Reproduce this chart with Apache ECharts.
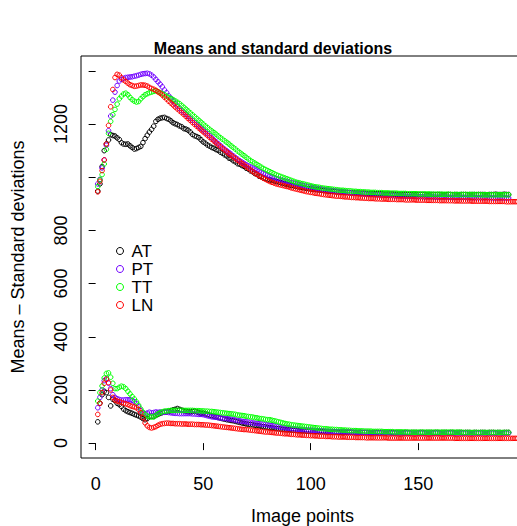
<!DOCTYPE html>
<html>
<head>
<meta charset="utf-8">
<script src="https://cdn.jsdelivr.net/npm/echarts@6/dist/echarts.min.js"></script>
<style>html,body{margin:0;padding:0;background:#fff}#c{width:517px;height:526px}</style>
</head>
<body>
<div id="c"></div>
<script>
const titleText = 'Means and standard deviations';
const xTitle = 'Image points';
const yTitle = 'Means \u2013 Standard deviations';
const seriesNames = ['AT', 'PT', 'TT', 'LN'];
const seriesColors = ['#000000', '#7000FF', '#00FF00', '#FF0000'];
const xTicks = [0, 50, 100, 150, 200];
const xTickLabels = [0, 50, 100, 150];
const yTicks = [0, 200, 400, 600, 800, 1000, 1200, 1400];
const yTickLabels = [0, 200, 400, 600, 800, 1200];

const meanAT = [
948,975,1040,1100,1125,1140,1160,1157,1155,1148,
1142,1130,1125,1124,1125,1118,1112,1106,1108,1112,
1116,1130,1145,1158,1170,1180,1192,1210,1218,1222,
1224,1225,1221,1218,1212,1205,1201,1198,1193,1190,
1183,1181,1177,1170,1161,1156,1153,1149,1141,1133,
1128,1121,1117,1112,1109,1104,1101,1094,1090,1084,
1080,1072,1069,1062,1058,1051,1049,1044,1041,1034,
1031,1024,1021,1014,1011,1004,1002,997,996,991,
990,988,986,984,982,980,977,975,973,971,
969,968,966,964,963,962,960,958,957,956,
955,954,953,952,951,950,949,948,947,947,
946,945,945,944,944,943,943,942,942,942,
941,941,940,940,940,939,939,939,939,938,
938,938,938,937,937,937,937,937,936,936,
936,936,936,936,935,935,935,936,935,935,
935,935,935,934,935,935,935,934,935,935,
935,934,934,935,935,934,935,935,934,935,
935,935,934,935,935,935,934,935,935,935,
935,934,935,935,935,936,935,935,935,936,
935,935];
const meanPT = [
975,992,1035,1065,1120,1175,1230,1290,1320,1345,
1362,1368,1372,1375,1376,1377,1378,1380,1382,1384,
1387,1389,1390,1391,1389,1384,1377,1368,1359,1350,
1340,1328,1318,1306,1297,1287,1277,1268,1259,1251,
1244,1237,1229,1222,1214,1206,1199,1192,1185,1178,
1170,1163,1156,1148,1140,1133,1126,1119,1112,1105,
1099,1093,1087,1080,1074,1068,1062,1057,1052,1047,
1043,1039,1035,1031,1027,1023,1019,1015,1011,1008,
1004,1001,998,995,993,990,988,986,984,982,
980,978,976,974,972,970,968,966,964,963,
961,960,958,957,956,954,953,952,951,950,
949,948,947,946,945,944,943,942,941,940,
940,939,938,937,937,936,936,935,935,934,
934,933,933,932,932,932,931,931,930,930,
930,929,929,929,928,928,928,928,927,927,
927,927,926,926,926,926,926,925,925,925,
925,925,925,925,924,924,924,924,924,924,
924,924,923,923,923,923,923,923,923,923,
923,923,923,923,922,922,922,922,922,922,
922,922];
const meanTT = [
965,990,1010,1050,1105,1165,1210,1235,1255,1275,
1295,1305,1313,1316,1310,1300,1292,1286,1283,1285,
1295,1303,1310,1314,1318,1320,1323,1325,1322,1318,
1314,1310,1305,1300,1296,1292,1287,1282,1277,1270,
1263,1256,1249,1242,1235,1228,1221,1214,1207,1200,
1193,1187,1180,1174,1168,1162,1155,1149,1143,1137,
1131,1125,1118,1112,1106,1099,1093,1087,1081,1075,
1069,1063,1058,1053,1048,1043,1038,1033,1029,1025,
1021,1017,1013,1009,1006,1003,1000,997,994,991,
988,985,982,980,978,976,974,972,970,968,
966,964,963,962,960,959,958,957,956,955,
954,953,952,951,951,950,949,949,948,947,
947,946,946,945,945,944,944,943,943,943,
942,942,942,941,941,941,940,940,940,940,
939,939,939,939,938,938,938,938,938,937,
937,937,937,937,937,936,936,936,936,936,
936,936,936,936,935,935,935,935,935,935,
935,935,935,935,935,935,935,935,934,934,
934,934,934,934,934,934,934,934,934,934,
934,934];
const meanLN = [
945,985,1025,1065,1125,1195,1265,1330,1375,1387,
1384,1374,1366,1360,1354,1348,1345,1342,1343,1345,
1347,1347,1346,1343,1338,1334,1331,1327,1321,1316,
1309,1301,1294,1286,1279,1272,1264,1257,1250,1243,
1236,1229,1221,1214,1206,1199,1192,1185,1178,1171,
1164,1157,1150,1143,1136,1129,1122,1115,1108,1102,
1095,1088,1082,1076,1070,1064,1058,1052,1046,1040,
1034,1028,1022,1016,1011,1006,1001,996,992,988,
984,981,978,975,973,971,969,967,965,963,
960,958,956,954,952,950,948,946,945,943,
942,940,939,938,936,935,934,933,932,931,
930,929,929,928,927,926,926,925,924,924,
923,923,922,922,921,921,920,920,920,919,
919,919,918,918,918,917,917,917,917,916,
916,916,916,915,915,915,915,915,914,914,
914,914,914,913,913,913,913,913,913,912,
912,912,912,912,912,912,911,911,911,911,
911,911,911,911,910,910,910,910,910,910,
910,910,909,909,909,909,909,909,909,909,
908,908,908,908,908,908];

const sdAT = [
80,150,182,195,190,172,140,165,160,150,
145,138,128,122,118,115,112,108,105,102,
98,92,88,92,100,102,100,104,108,112,
115,118,117,120,122,125,127,130,127,124,
122,120,118,117,119,121,118,115,112,113,
110,108,105,103,101,99,96,94,92,90,
88,87,85,84,82,80,78,76,74,72,
71,70,69,67,66,65,63,62,61,59,
58,57,56,55,54,53,52,51,50,50,
49,48,48,47,47,46,46,45,45,45,
44,44,44,43,43,43,43,42,42,42,
42,42,41,41,41,41,41,41,41,40,
40,40,41,40,40,40,40,39,40,40,
40,39,40,40,39,40,40,40,39,40,
40,40,39,40,40,39,40,40,40,39,
40,40,39,40,40,40,39,40,40,39,
40,40,40,39,40,40,39,40,40,40,
39,40,40,40,39,40,40,39,40,40,
40,39,40,40,40,39,40,40,39,40,
40,40];
const sdPT = [
133,172,200,235,242,225,205,182,172,167,
164,162,162,163,163,163,161,156,148,136,
122,113,111,113,116,114,115,117,116,117,
115,116,117,115,114,113,112,112,111,111,
111,111,111,111,110,110,109,108,108,107,
105,103,101,99,98,97,96,95,94,93,
92,91,90,88,87,85,84,82,81,80,
79,78,76,75,74,73,72,71,70,69,
67,66,65,63,62,60,59,58,57,56,
55,54,53,52,52,51,50,50,49,49,
48,48,47,47,46,46,45,45,44,44,
44,43,43,43,42,42,42,41,41,41,
41,40,40,40,40,40,39,39,39,39,
39,39,39,39,39,39,38,38,38,38,
38,38,38,38,38,38,38,38,38,38,
38,38,38,38,38,38,38,38,38,38,
38,38,38,38,38,38,38,38,38,38,
38,38,38,38,38,38,38,38,38,38,
38,38,38,38,38,38,38,38,38,38,
38,38];
const sdTT = [
158,190,215,245,262,264,248,225,205,205,
210,214,212,205,195,185,175,166,155,142,
128,116,108,102,99,98,99,104,110,115,
118,120,121,122,123,123,123,123,123,123,
123,123,123,123,123,122,122,122,121,121,
120,120,119,119,118,117,116,115,114,113,
112,111,110,109,108,106,105,104,103,101,
100,99,98,96,95,93,92,91,89,88,
88,86,84,82,80,78,76,74,72,71,
69,68,67,66,65,64,63,62,61,60,
59,58,57,56,55,54,54,53,52,52,
51,51,50,50,49,49,48,48,47,47,
47,46,46,46,45,45,45,45,44,44,
44,44,44,43,43,43,43,43,42,42,
42,42,42,42,41,41,41,41,41,41,
41,41,41,41,41,41,41,41,41,41,
41,41,41,41,41,41,41,41,41,41,
40,40,40,40,40,40,40,40,40,40,
40,40,40,40,40,40,40,40,40,40,
40,40];
const sdLN = [
108,150,190,225,240,228,200,172,162,158,
156,153,150,148,145,141,138,136,133,126,
114,96,76,65,59,57,59,62,67,71,
73,74,75,75,74,74,73,73,73,72,
72,72,71,71,71,70,70,70,69,69,
68,68,67,66,65,64,63,62,61,60,
59,58,57,56,55,54,53,52,51,51,
50,49,48,47,46,45,44,43,42,42,
41,40,39,38,38,37,36,35,35,34,
33,33,32,31,31,30,30,29,29,28,
28,27,27,26,26,26,25,25,25,24,
24,24,23,23,23,23,22,22,22,22,
21,21,21,21,21,20,20,20,20,20,
20,20,20,20,20,19,19,19,19,19,
19,19,19,19,19,19,19,19,19,19,
19,19,19,19,19,19,19,19,19,19,
19,19,19,19,19,19,18,18,18,18,
18,18,18,18,18,18,18,18,18,18,
18,18,18,18,18,18,18,18,18,18,
18,18,18,18,18,18];

const means = [meanAT, meanPT, meanTT, meanLN];
const sds = [sdAT, sdPT, sdTT, sdLN];
const FONT = 'Liberation Sans, Arial, sans-serif';

function pts(arr) { return arr.map((v, k) => [k + 1, v]); }
function mkSeries(name, color, arr) {
  return {
    type: 'scatter', name: name, data: pts(arr),
    symbol: 'circle', symbolSize: 4.6,
    itemStyle: { color: 'rgba(0,0,0,0)', borderColor: color, borderWidth: 1, opacity: 1 },
    emphasis: { disabled: true }, silent: true
  };
}
const series = [];
for (let k = 0; k < 4; k++) series.push(mkSeries(seriesNames[k], seriesColors[k], means[k]));
for (let k = 0; k < 4; k++) series.push(mkSeries(seriesNames[k], seriesColors[k], sds[k]));

const chart = echarts.init(document.getElementById('c'), null, { renderer: 'svg' });
chart.setOption({
  animation: false,
  backgroundColor: '#fff',
  title: {
    text: titleText, left: 268, top: 35, textAlign: 'center',
    textStyle: { fontFamily: FONT, fontSize: 16, fontWeight: 'bold', color: '#000' }
  },
  legend: {
    orient: 'vertical', left: 111, top: 237, itemWidth: 7, itemHeight: 7, itemGap: 0,
    selectedMode: false,
    data: seriesNames.map((n, k) => ({
      name: n, icon: 'circle',
      itemStyle: { color: 'rgba(0,0,0,0)', borderColor: seriesColors[k], borderWidth: 1 }
    })),
    textStyle: { fontFamily: FONT, fontSize: 17, lineHeight: 18, color: '#000', padding: [0, 0, 0, 3] }
  },
  grid: {
    left: 81, top: 56, width: 453, height: 402, show: true,
    borderColor: '#000', borderWidth: 1, backgroundColor: 'rgba(0,0,0,0)',
    containLabel: false, outerBoundsMode: 'none'
  },
  xAxis: {
    type: 'value', min: -6.8, max: 203.8,
    axisLine: { show: false }, splitLine: { show: false },
    axisTick: { show: true, inside: false, length: 7, customValues: xTicks, lineStyle: { color: '#000' } },
    axisLabel: { customValues: xTickLabels, margin: 17, fontFamily: FONT, fontSize: 18, color: '#000', hideOverlap: false },
    name: xTitle, nameLocation: 'middle', nameGap: 49,
    nameTextStyle: { fontFamily: FONT, fontSize: 18, color: '#000', padding: [0, 10, 0, 0] }
  },
  yAxis: {
    type: 'value', min: -56, max: 1456,
    axisLine: { show: false }, splitLine: { show: false },
    axisTick: { show: true, inside: false, length: 7, customValues: yTicks, lineStyle: { color: '#000' } },
    axisLabel: {
      customValues: yTickLabels, rotate: 90, margin: 11, fontFamily: FONT, fontSize: 18, color: '#000',
      formatter: v => String(v), hideOverlap: false
    },
    name: yTitle, nameLocation: 'middle', nameGap: 54,
    nameTextStyle: { fontFamily: FONT, fontSize: 18, color: '#000' }
  },
  series: series
});
</script>
</body>
</html>
